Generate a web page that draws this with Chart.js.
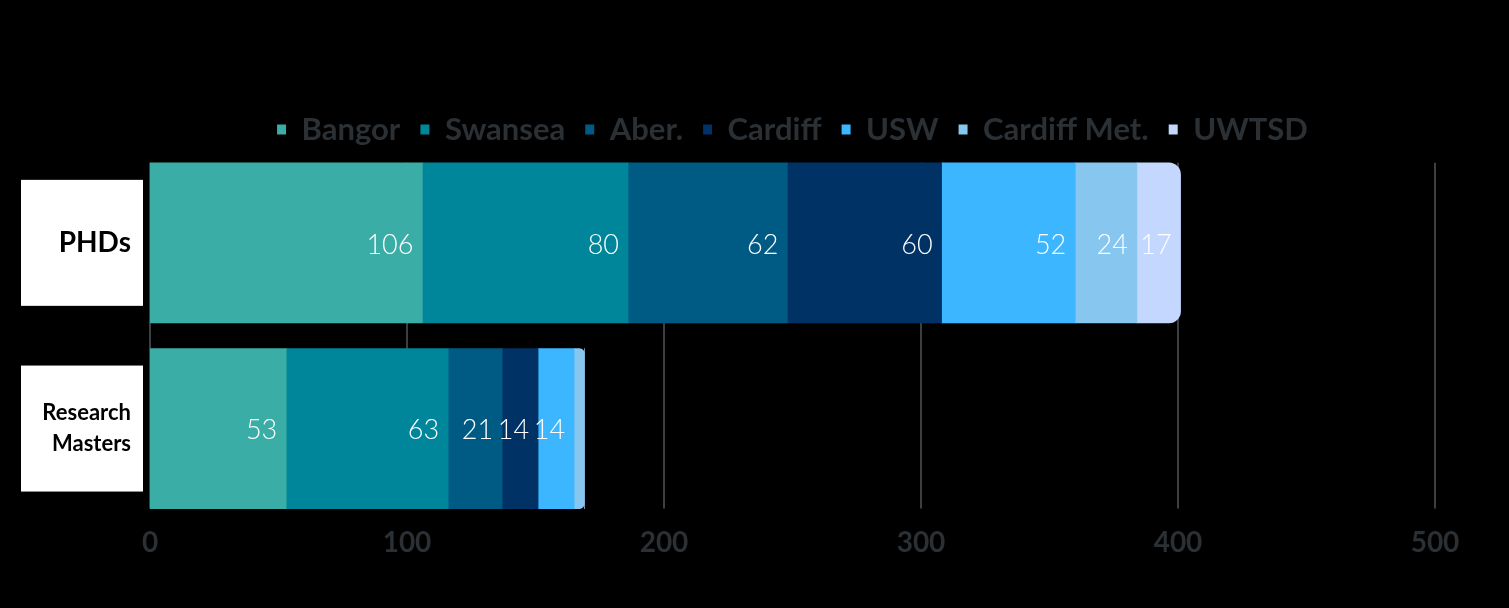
<!DOCTYPE html>
<html>
<head>
<meta charset="utf-8">
<script src="https://cdn.jsdelivr.net/npm/chart.js@4/dist/chart.umd.min.js"></script>
<style>
  html, body { margin: 0; padding: 0; background: #000; }
  #wrap { width: 1509px; height: 608px; }
</style>
</head>
<body>
<div id="wrap"><canvas id="chart"></canvas></div>
<script>
const categories = ["PHDs", ["Research", "Masters"]];
const universities = ["Bangor", "Swansea", "Aber.", "Cardiff", "USW", "Cardiff Met.", "UWTSD"];
const phdValues = [106, 80, 62, 60, 52, 24, 17];
const mastersValues = [53, 63, 21, 14, 14, 4, 0];
const colours = ["#3aada6", "#00869a", "#005b84", "#003265", "#3cb6ff", "#86c6ef", "#c3d7ff"];
const xTicks = [0, 100, 200, 300, 400, 500];

const textColour = "#2b3035";
const gridColour = "#3a4044";

const datasets = universities.map((name, i) => ({
  label: name,
  data: [phdValues[i], mastersValues[i]],
  backgroundColor: colours[i],
  borderWidth: 0,
  borderSkipped: "start",
  borderRadius: (ctx) => {
    const vals = [phdValues, mastersValues][ctx.dataIndex];
    if (!vals) return 0;
    let last = -1;
    universities.forEach((_, k) => { if (vals[k] > 0) last = k; });
    return ctx.datasetIndex === last ? { topRight: 12, bottomRight: 12, topLeft: 0, bottomLeft: 0 } : 0;
  },
  barThickness: 160,
}));

// legend reserves a bit too much space below itself; trim it
const legendTrim = {
  id: "legendTrim",
  beforeUpdate(chart) {
    const lg = chart.legend;
    if (lg && !lg._trimmed) {
      const fit = lg.fit.bind(lg);
      lg.fit = function () { fit(); this.height -= 5; };
      lg._trimmed = true;
    }
  },
};

// white boxes behind the category labels
const labelBoxes = {
  id: "labelBoxes",
  beforeDraw(chart) {
    const { ctx, scales: { y }, chartArea } = chart;
    ctx.save();
    ctx.fillStyle = "#ffffff";
    y.ticks.forEach((t, i) => {
      const cy = y.getPixelForTick(i);
      ctx.fillRect(chartArea.left - 129, cy - 63, 122, 126);
    });
    ctx.restore();
  },
};

// vertical grid lines spanning only the bars' extent
const gridLines = {
  id: "gridLines",
  beforeDatasetsDraw(chart) {
    const { ctx, scales: { x } } = chart;
    const els = chart.getDatasetMeta(0).data;
    const top = els[0].y - els[0].height / 2;
    const bottom = els[els.length - 1].y + els[els.length - 1].height / 2;
    ctx.save();
    ctx.strokeStyle = gridColour;
    ctx.lineWidth = 2;
    xTicks.forEach((v) => {
      const px = Math.round(x.getPixelForValue(v));
      ctx.beginPath();
      ctx.moveTo(px, top);
      ctx.lineTo(px, bottom);
      ctx.stroke();
    });
    ctx.restore();
  },
};

// value labels inside each segment
const valueLabels = {
  id: "valueLabels",
  afterDatasetsDraw(chart) {
    const { ctx } = chart;
    ctx.save();
    ctx.fillStyle = "#ffffff";
    ctx.font = "300 27px Lato";
    ctx.textAlign = "right";
    ctx.textBaseline = "middle";
    chart.data.datasets.forEach((ds, di) => {
      chart.getDatasetMeta(di).data.forEach((el, i) => {
        const v = ds.data[i];
        if (v < 10) return;
        ctx.fillText(String(v), el.x - 9, el.y + 2);
      });
    });
    ctx.restore();
  },
};

new Chart(document.getElementById("chart"), {
  type: "bar",
  data: { labels: categories, datasets },
  plugins: [legendTrim, labelBoxes, gridLines, valueLabels],
  options: {
    indexAxis: "y",
    responsive: true,
    maintainAspectRatio: false,
    animation: false,
    layout: { padding: { top: 94, bottom: 51, left: 0, right: 74 } },
    plugins: {
      legend: {
        position: "top",
        fullSize: false,
        labels: {
          color: textColour,
          font: { family: "Lato", size: 31, weight: "bold" },
          boxWidth: 9,
          boxHeight: 10,
          padding: 20,
        },
      },
      tooltip: { enabled: false },
    },
    scales: {
      x: {
        stacked: true,
        min: 0,
        max: 500,
        afterBuildTicks: (axis) => { axis.ticks = xTicks.map((v) => ({ value: v })); },
        grid: { display: false },
        border: { display: false },
        ticks: {
          color: textColour,
          font: { family: "Lato", size: 28, weight: "bold" },
          padding: -3,
        },
      },
      y: {
        stacked: true,
        grid: { display: false },
        border: { display: false },
        afterFit: (axis) => { axis.width = 150; },
        ticks: {
          color: "#000000",
          padding: 11,
          font: (ctx) => ctx.index === 0
            ? { family: "Lato", size: 28, weight: "bold" }
            : { family: "Lato", size: 22, weight: "bold", lineHeight: 1.4 },
        },
      },
    },
  },
});
</script>
</body>
</html>
